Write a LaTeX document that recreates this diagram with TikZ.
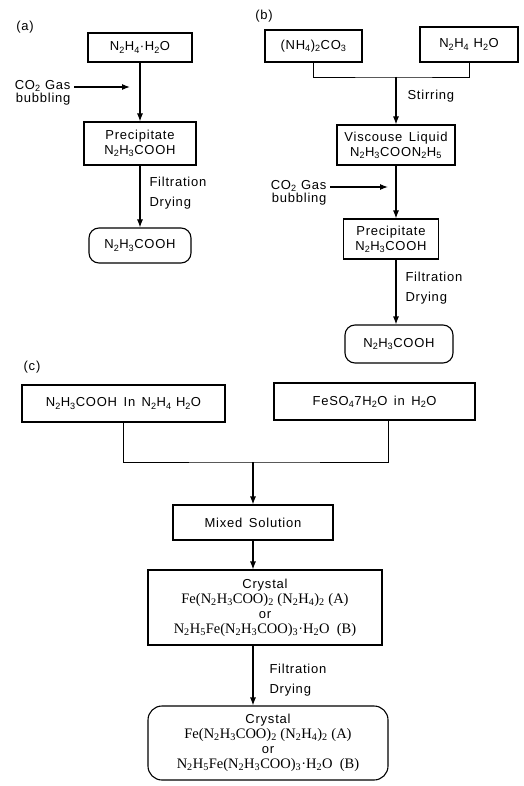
\documentclass[tikz,border=0pt]{standalone}
\usepackage{fontspec}
\setmainfont{Liberation Sans}[LetterSpace=6]
\newfontfamily\formfont{Liberation Serif}
\usetikzlibrary{arrows.meta}
\newcommand{\chsub}[1]{\textsubscript{#1}}
\newcommand{\formline}[1]{{\formfont\fontsize{14.5}{16}\selectfont #1}}
\tikzset{
  box/.style={draw, line width=1.1pt, align=center, inner sep=2pt},
  endbox/.style={box, rounded corners=10pt},
  arr/.style={line width=1.1pt, -{Latex[length=8pt,width=6pt]}},
  note/.style={align=left, font=\fontsize{13}{20}\selectfont},
  gasnote/.style={align=right, font=\fontsize{13}{13}\selectfont, anchor=east},
}
\begin{document}
\begin{tikzpicture}[x=1pt, y=-1pt, font=\fontsize{13}{15}\selectfont]
      \useasboundingbox (0,0) rectangle (524,786);
      % (a)
      \node (la) at (25,27) {(a)};
      \node[box, minimum width=104, minimum height=29] (a1) at (140,47.5) {N\chsub{2}H\chsub{4}·H\chsub{2}O};
      \node[box, minimum width=112, minimum height=43] (a2) at (140,143.5) {Precipitate\\N\chsub{2}H\chsub{3}COOH};
      \node[endbox, minimum width=102, minimum height=35] (a3) at (140,245.5) {N\chsub{2}H\chsub{3}COOH};
      \node[gasnote] (a4) at (74,93) {CO\chsub{2} Gas\\bubbling};
      \coordinate (a5) at (130,87);
      \node[note, anchor=west] (a6) at (146,193) {Filtration\\Drying};
      \draw[arr] (a1) -- (a2);
      \draw[arr] (a2) -- (a3);
      \draw[arr] (a4.east |- a5) -- (a5);
      % (b)
      \node (lb) at (264,16) {(b)};
      \node[box, minimum width=97, minimum height=32] (b1) at (313.5,46) {(NH\chsub{4})\chsub{2}CO\chsub{3}};
      \node[box, minimum width=98, minimum height=35] (b2) at (469,44.5) {N\chsub{2}H\chsub{4} H\chsub{2}O};
      \coordinate (b3) at (396,77);
      \node[note, anchor=west] (b5) at (404,96) {Stirring};
      \node[box, minimum width=118, minimum height=40] (b4) at (396,145) {Viscouse\enspace Liquid\\N\chsub{2}H\chsub{3}COON\chsub{2}H\chsub{5}};
      \node[gasnote] (b6) at (330,193) {CO\chsub{2} Gas\\bubbling};
      \coordinate (b7) at (388,187);
      \node[box, minimum width=95, minimum height=40] (b8) at (391,239) {Precipitate\\N\chsub{2}H\chsub{3}COOH};
      \node[note, anchor=west] (b9) at (402,288) {Filtration\\Drying};
      \node[endbox, minimum width=108, minimum height=38] (b10) at (399,344) {N\chsub{2}H\chsub{3}COOH};
      \draw (b1) |- (b3) -| (b2);
      \draw[arr] (b3) -- (b3 |- b4.north);
      \draw[arr] (b4.south -| b3) -- (b3 |- b8.north);
      \draw[arr] (b6.east |- b7) -- (b7);
      \draw[arr] (b8.south -| b3) -- (b3 |- b10.north);
      % (c)
      \node (lc) at (32,367) {(c)};
      \node[box, minimum width=203, minimum height=37] (c1) at (123.5,403.5) {N\chsub{2}H\chsub{3}COOH\enspace In\enspace N\chsub{2}H\chsub{4} H\chsub{2}O};
      \node[box, minimum width=201, minimum height=37] (c2) at (374.5,401.5) {FeSO\chsub{4}7H\chsub{2}O\enspace in\enspace H\chsub{2}O};
      \coordinate (c3) at (253,462);
      \node[box, minimum width=160, minimum height=35] (c4) at (253,522.5) {Mixed\enspace Solution};
      \node[box, minimum width=234, minimum height=75] (c5) at (265,607.5) {Crystal\\
        \formline{Fe(N\chsub{2}H\chsub{3}COO)\chsub{2} (N\chsub{2}H\chsub{4})\chsub{2} (A)}\\
        or\\
        \formline{N\chsub{2}H\chsub{5}Fe(N\chsub{2}H\chsub{3}COO)\chsub{3}·H\chsub{2}O\enspace (B)}};
      \node[note, anchor=west] (c6) at (266,680) {Filtration\\Drying};
      \node[endbox, minimum width=240, minimum height=74, rounded corners=14pt] (c7) at (268,743) {Crystal\\
        \formline{Fe(N\chsub{2}H\chsub{3}COO)\chsub{2} (N\chsub{2}H\chsub{4})\chsub{2} (A)}\\
        or\\
        \formline{N\chsub{2}H\chsub{5}Fe(N\chsub{2}H\chsub{3}COO)\chsub{3}·H\chsub{2}O\enspace (B)}};
      \draw (c1) |- (c3) -| ([xshift=14]c2.south);
      \draw[arr] (c3) -- (c4);
      \draw[arr] (c4) -- (c4 |- c5.north);
      \draw[arr] (c5.south -| c4) -- (c4 |- c7.north);
    \end{tikzpicture}
\end{document}
